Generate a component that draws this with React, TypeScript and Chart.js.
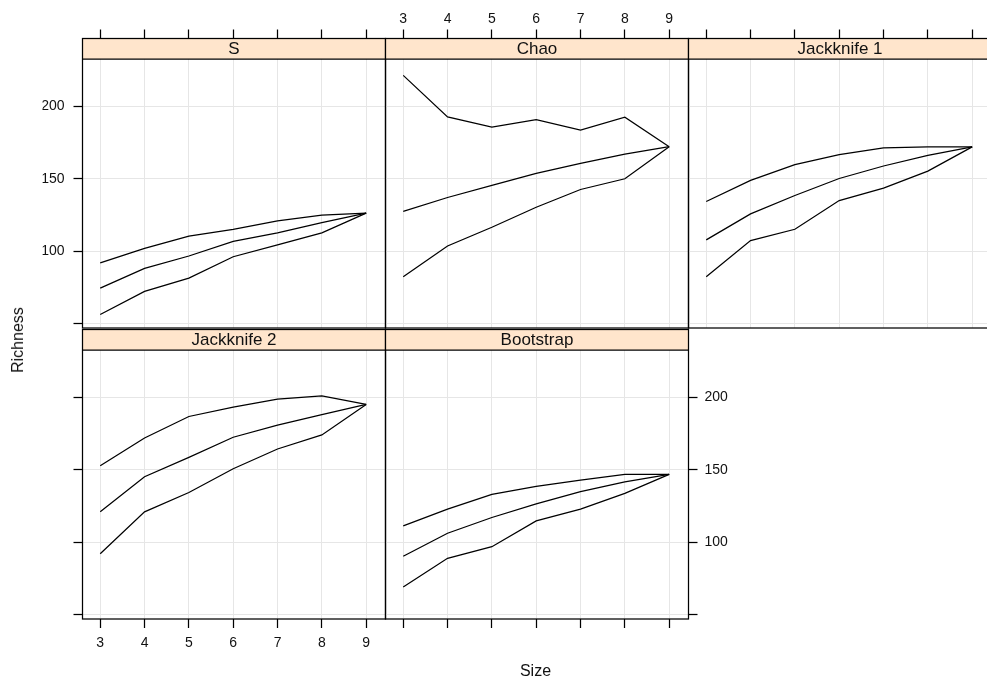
import React, { useEffect, useRef } from 'react';
import { Chart, registerables } from 'chart.js';

Chart.register(...registerables);

// ---------- data ----------
const SIZES = [3, 4, 5, 6, 7, 8, 9];
const X_TICKS = [3, 4, 5, 6, 7, 8, 9];
const Y_TICKS = [50, 100, 150, 200];
const Y_LABELLED = [100, 150, 200];

const S_UPPER = [92, 102, 110.5, 115.2, 121, 125, 126.3];
const S_MIDDLE = [74.7, 88.3, 96.8, 106.9, 112.7, 119.8, 126.3];
const S_LOWER = [56.5, 72.4, 81.6, 96.3, 104.4, 112.7, 126.3];

const CHAO_UPPER = [221.2, 192.6, 185.5, 190.8, 183.6, 192.4, 172.1];
const CHAO_MIDDLE = [127.6, 137.1, 145.4, 153.7, 160.6, 167, 172.1];
const CHAO_LOWER = [82.5, 103.7, 116.6, 130.4, 142.6, 150, 172.1];

const JACK1_UPPER = [134.3, 148.9, 159.7, 166.6, 171.2, 171.9, 172];
const JACK1_MIDDLE = [107.9, 125.8, 138.5, 150.2, 158.8, 166.1, 172];
const JACK1_LOWER = [82.5, 107.4, 115.2, 135, 143.5, 155.3, 172];

const JACK2_UPPER = [152.8, 171.9, 186.7, 193.1, 198.6, 200.9, 195];
const JACK2_MIDDLE = [121, 145.2, 158.5, 172.4, 180.7, 188, 195];
const JACK2_LOWER = [92.2, 121, 134.3, 150.7, 164.3, 174, 195];

const BOOT_UPPER = [111.3, 122.9, 133, 138.5, 142.9, 146.8, 146.8];
const BOOT_MIDDLE = [90.4, 106.3, 117.1, 126.5, 135, 141.7, 146.8];
const BOOT_LOWER = [69.2, 89, 97, 114.8, 122.9, 133.7, 146.8];

// ---------- layout / style ----------
const FONT = '"Liberation Sans", Arial, sans-serif';
const STRIP_FILL = '#FFE5CC';
const GRID_COLOR = '#E6E6E6';
const COL_LEFT = [82.5, 385.5, 688.5];
const ROW_TOP = [38.5, 329.5];
const PANEL_W = 303;
const PANEL_H = 289.5;
const STRIP_H = 20.5;
const PLOT_H = PANEL_H - STRIP_H;
const X_MIN = 2.6;
const X_MAX = 9.436;
const Y_MIN = 47.2;
const Y_PLOT_TOP = 232.5;
const Y_MAX = Y_PLOT_TOP + (STRIP_H * (Y_PLOT_TOP - Y_MIN)) / PLOT_H;
const AXIS_SIZE = 40;
const MARGIN = 60;
const TICK_LEN = 9;

type PanelSpec = {
  name: string;
  col: number;
  row: number;
  upper: number[];
  middle: number[];
  lower: number[];
  xPos: 'top' | 'bottom';
  xLabels: boolean;
  yPos: 'left' | 'right' | 'none';
  yLabels: boolean;
};

const PANELS: PanelSpec[] = [
  { name: 'S', col: 0, row: 0, upper: S_UPPER, middle: S_MIDDLE, lower: S_LOWER, xPos: 'top', xLabels: false, yPos: 'left', yLabels: true },
  { name: 'Chao', col: 1, row: 0, upper: CHAO_UPPER, middle: CHAO_MIDDLE, lower: CHAO_LOWER, xPos: 'top', xLabels: true, yPos: 'none', yLabels: false },
  { name: 'Jackknife 1', col: 2, row: 0, upper: JACK1_UPPER, middle: JACK1_MIDDLE, lower: JACK1_LOWER, xPos: 'top', xLabels: false, yPos: 'none', yLabels: false },
  { name: 'Jackknife 2', col: 0, row: 1, upper: JACK2_UPPER, middle: JACK2_MIDDLE, lower: JACK2_LOWER, xPos: 'bottom', xLabels: true, yPos: 'left', yLabels: false },
  { name: 'Bootstrap', col: 1, row: 1, upper: BOOT_UPPER, middle: BOOT_MIDDLE, lower: BOOT_LOWER, xPos: 'bottom', xLabels: false, yPos: 'right', yLabels: true },
];

function Panel({ spec }: { spec: PanelSpec }) {
  const ref = useRef<HTMLCanvasElement>(null);
  const areaLeft = COL_LEFT[spec.col];
  const areaTop = ROW_TOP[spec.row];
  const areaRight = areaLeft + PANEL_W;
  const areaBottom = areaTop + PANEL_H;
  const cl = Math.floor(areaLeft - MARGIN);
  const ct = Math.floor(areaTop - MARGIN);
  const cr = Math.ceil(areaRight + MARGIN);
  const cb = Math.ceil(areaBottom + MARGIN);
  const cw = cr - cl;
  const ch = cb - ct;

  useEffect(() => {
    if (!ref.current) return;
    const ySize = spec.yPos === 'none' ? 0 : AXIS_SIZE;
    const padding = {
      left: areaLeft - cl - (spec.yPos === 'left' ? ySize : 0),
      right: cr - areaRight - (spec.yPos === 'right' ? ySize : 0),
      top: areaTop - ct - (spec.xPos === 'top' ? AXIS_SIZE : 0),
      bottom: cb - areaBottom - (spec.xPos === 'bottom' ? AXIS_SIZE : 0),
    };
    const zeroPad = (s: any) => {
      s.paddingLeft = 0;
      s.paddingRight = 0;
      s.paddingTop = 0;
      s.paddingBottom = 0;
    };
    const mk = (vals: number[]) => SIZES.map((x, i) => ({ x, y: vals[i] }));
    const ds = (vals: number[]) => ({
      data: mk(vals),
      borderColor: '#000',
      borderWidth: 1.25,
      pointRadius: 0,
      tension: 0,
      fill: false,
    });
    const stripPlugin = {
      id: 'strip' + spec.name.replace(/\s/g, ''),
      afterDraw(chart: any) {
        const { ctx, chartArea: a } = chart;
        ctx.save();
        ctx.fillStyle = STRIP_FILL;
        ctx.fillRect(a.left, a.top, a.right - a.left, STRIP_H);
        ctx.strokeStyle = '#000';
        ctx.lineWidth = 1.25;
        ctx.beginPath();
        ctx.moveTo(a.left, a.top + STRIP_H);
        ctx.lineTo(a.right, a.top + STRIP_H);
        ctx.stroke();
        ctx.strokeRect(a.left, a.top, a.right - a.left, a.bottom - a.top);
        ctx.fillStyle = '#111';
        ctx.font = '17px ' + FONT;
        ctx.textAlign = 'center';
        ctx.textBaseline = 'middle';
        ctx.fillText(spec.name, (a.left + a.right) / 2, a.top + STRIP_H / 2 + 1);
        ctx.restore();
      },
    };

    const chart = new Chart(ref.current, {
      type: 'line',
      data: { datasets: [ds(spec.upper), ds(spec.middle), ds(spec.lower)] },
      options: {
        responsive: false,
        animation: false,
        devicePixelRatio: 1,
        layout: { padding },
        plugins: { legend: { display: false }, tooltip: { enabled: false } },
        scales: {
          x: {
            type: 'linear',
            position: spec.xPos,
            min: X_MIN,
            max: X_MAX,
            bounds: 'data',
            afterBuildTicks: (s: any) => {
              s.ticks = X_TICKS.map((v) => ({ value: v }));
            },
            afterFit: (s: any) => {
              s.height = AXIS_SIZE;
              zeroPad(s);
            },
            grid: {
              color: GRID_COLOR,
              lineWidth: 1,
              drawTicks: true,
              tickLength: TICK_LEN,
              tickColor: '#000',
              tickWidth: 1.25,
            },
            border: { display: false },
            ticks: {
              display: spec.xLabels,
              autoSkip: false,
              maxRotation: 0,
              minRotation: 0,
              padding: spec.xPos === 'top' ? 2 : 7,
              color: '#111',
              font: { family: FONT, size: 14 },
              callback: (v: any) => String(v),
            },
          },
          y: {
            type: 'linear',
            position: spec.yPos === 'right' ? 'right' : 'left',
            min: Y_MIN,
            max: Y_MAX,
            bounds: 'data',
            afterBuildTicks: (s: any) => {
              s.ticks = Y_TICKS.map((v) => ({ value: v }));
            },
            afterFit: (s: any) => {
              s.width = ySize;
              zeroPad(s);
            },
            grid: {
              color: GRID_COLOR,
              lineWidth: 1,
              drawTicks: spec.yPos !== 'none',
              tickLength: TICK_LEN,
              tickColor: '#000',
              tickWidth: 1.25,
            },
            border: { display: false },
            ticks: {
              display: spec.yLabels,
              autoSkip: false,
              padding: spec.yPos === 'right' ? 7 : 9,
              color: '#111',
              font: { family: FONT, size: 14 },
              callback: (v: any) => (Y_LABELLED.includes(Number(v)) ? String(v) : ''),
            },
          },
        },
      },
      plugins: [stripPlugin],
    } as any);
    return () => chart.destroy();
  }, []);

  return (
    <canvas
      ref={ref}
      width={cw}
      height={ch}
      style={{ position: 'absolute', left: cl, top: ct, width: cw, height: ch }}
    />
  );
}

export default function App() {
  return (
    <div
      style={{
        position: 'absolute',
        left: 0,
        top: 0,
        width: 987,
        height: 679,
        overflow: 'hidden',
        background: '#fff',
      }}
    >
      {PANELS.map((p) => (
        <Panel key={p.name} spec={p} />
      ))}
      <div
        style={{
          position: 'absolute',
          left: 18,
          top: 339.5,
          transform: 'translate(-50%, -50%) rotate(-90deg)',
          fontFamily: FONT,
          fontSize: 16,
          lineHeight: 1,
          whiteSpace: 'nowrap',
          color: '#111',
        }}
      >
        Richness
      </div>
      <div
        style={{
          position: 'absolute',
          left: 535.5,
          top: 671,
          transform: 'translate(-50%, -50%)',
          fontFamily: FONT,
          fontSize: 16,
          lineHeight: 1,
          whiteSpace: 'nowrap',
          color: '#111',
        }}
      >
        Size
      </div>
    </div>
  );
}
